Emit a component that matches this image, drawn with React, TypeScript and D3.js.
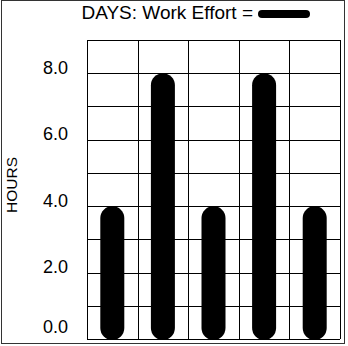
import React from "react";
import * as d3 from "d3";

// Work effort per day, in hours
const days = ["Day 1", "Day 2", "Day 3", "Day 4", "Day 5"];
const hours = [4, 8, 4, 8, 4];
const yTicks = [0, 2, 4, 6, 8];
const yMax = 9;

const W = 348;
const H = 346;
const margin = { left: 87, right: 8, top: 40, bottom: 7 };
const FONT = "'Liberation Sans', Arial, Helvetica, sans-serif";

export default function App() {
  const x = d3
    .scaleBand<string>()
    .domain(days)
    .range([margin.left, W - margin.right])
    .padding(0);
  const y = d3
    .scaleLinear()
    .domain([0, yMax])
    .range([H - margin.bottom, margin.top]);

  const [y0, y1] = y.range();
  const gridY = d3.range(0, yMax + 1);
  const gridX = [...days.map((d) => x(d) as number), x.range()[1]];
  const barW = 24;

  return (
    <svg
      width={W}
      height={H}
      style={{ position: "fixed", left: 0, top: 0, background: "#fff" }}
    >
      <rect x={1.5} y={0.5} width={343} height={343} fill="#fff" stroke="#333" />

      {/* title with legend swatch */}
      <text
        x={253}
        y={19}
        textAnchor="end"
        fontFamily={FONT}
        fontSize={19}
        fill="#000"
      >
        DAYS: Work Effort =
      </text>
      <rect x={258} y={10} width={52} height={8} rx={4} fill="#000" />

      {/* horizontal grid */}
      {gridY.map((v) => (
        <line
          key={"h" + v}
          x1={margin.left}
          x2={W - margin.right}
          y1={Math.round(y(v)) + 0.5}
          y2={Math.round(y(v)) + 0.5}
          stroke="#000"
          strokeWidth={1}
        />
      ))}
      {/* vertical grid */}
      {gridX.map((gx, i) => (
        <line
          key={"v" + i}
          x1={Math.round(gx) + 0.5}
          x2={Math.round(gx) + 0.5}
          y1={y1}
          y2={y0}
          stroke="#000"
          strokeWidth={1}
        />
      ))}

      {/* bars */}
      {days.map((d, i) => {
        const cx = (x(d) as number) + x.bandwidth() / 2;
        const top = y(hours[i]);
        return (
          <rect
            key={d}
            x={cx - barW / 2}
            y={top}
            width={barW}
            height={y(0) - top + 1}
            rx={barW / 2}
            fill="#000"
          />
        );
      })}

      {/* y tick labels */}
      {yTicks.map((v) => (
        <text
          key={"t" + v}
          x={68}
          y={Math.min(y(v) + 0.5, y0 - 6)}
          textAnchor="end"
          fontFamily={FONT}
          fontSize={18}
          fill="#000"
        >
          {d3.format(".1f")(v)}
        </text>
      ))}

      <text
        transform={`translate(17,185) rotate(-90)`}
        textAnchor="middle"
        fontFamily={FONT}
        fontSize={15.5}
        fill="#000"
      >
        HOURS
      </text>
    </svg>
  );
}
